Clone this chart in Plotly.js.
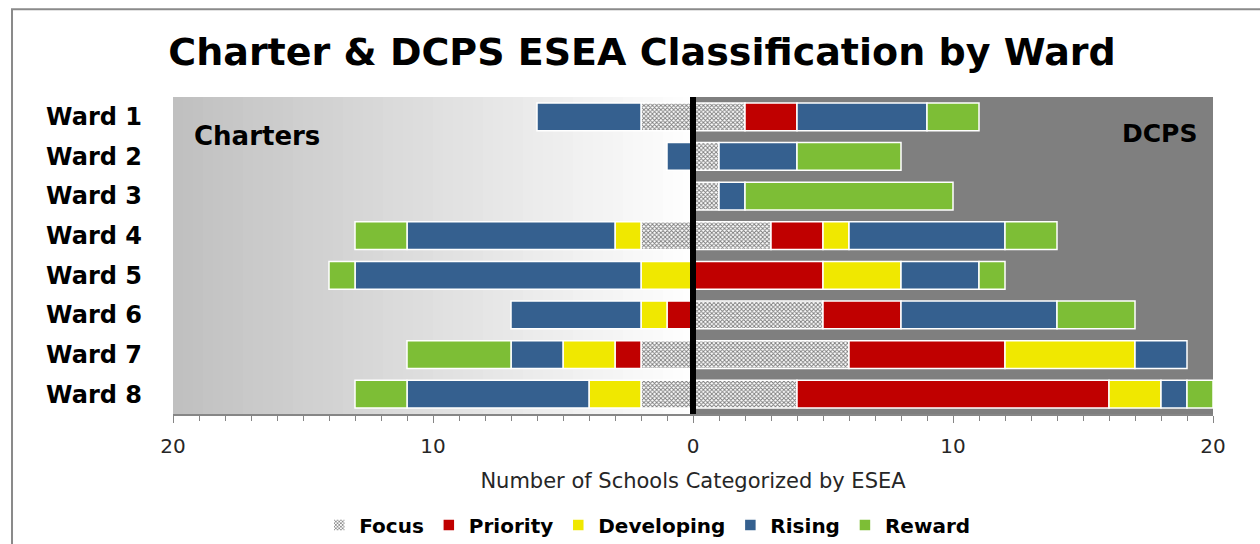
<!DOCTYPE html>
<html>
<head>
<meta charset="utf-8">
<script src="https://cdn.plot.ly/plotly-3.0.1.min.js"></script>
<style>
  html, body { margin: 0; padding: 0; background: #fff; }
  #graph { width: 1260px; height: 544px; }
</style>
</head>
<body>
<div id="graph"></div>
<script>
const wards = ["Ward 1", "Ward 2", "Ward 3", "Ward 4", "Ward 5", "Ward 6", "Ward 7", "Ward 8"];
const categories = ["Focus", "Priority", "Developing", "Rising", "Reward"];

// charter schools (drawn to the left)
const charterFocus = [2, 0, 0, 2, 0, 0, 2, 2];
const charterPriority = [0, 0, 0, 0, 0, 1, 1, 0];
const charterDeveloping = [0, 0, 0, 1, 2, 1, 2, 2];
const charterRising = [4, 1, 0, 8, 11, 5, 2, 7];
const charterReward = [0, 0, 0, 2, 1, 0, 4, 2];

// DCPS schools (drawn to the right)
const dcpsFocus = [2, 1, 1, 3, 0, 5, 6, 4];
const dcpsPriority = [2, 0, 0, 2, 5, 3, 6, 12];
const dcpsDeveloping = [0, 0, 0, 1, 3, 0, 5, 2];
const dcpsRising = [5, 3, 1, 6, 3, 6, 2, 1];
const dcpsReward = [2, 4, 8, 2, 1, 3, 0, 1];

const tickVals = [-20, -10, 0, 10, 20];
const tickText = ["20", "10", "0", "10", "20"];

const colors = {
  Focus: "#ffffff",
  Priority: "#c00000",
  Developing: "#f0e800",
  Rising: "#35608f",
  Reward: "#7dbe36",
};

const charterSets = [charterFocus, charterPriority, charterDeveloping, charterRising, charterReward];
const dcpsSets = [dcpsFocus, dcpsPriority, dcpsDeveloping, dcpsRising, dcpsReward];

const font = "DejaVu Sans, sans-serif";

function makeMarker(name) {
  let marker = {
    color: colors[name],
    line: { color: "#ffffff", width: 1.5 },
  };
  if (name === "Focus") {
    marker.pattern = { shape: "x", fgcolor: "#7a7a7a", bgcolor: "#ffffff", size: 3, solidity: 0.5 };
  }
  return marker;
}

let data = [];
categories.forEach((name, i) => {
  data.push({
    type: "bar",
    orientation: "h",
    name: name,
    legendgroup: name,
    showlegend: true,
    y: wards,
    x: dcpsSets[i].map((v) => (v === 0 ? null : v)),
    marker: makeMarker(name),
    hoverinfo: "skip",
  });
  data.push({
    type: "bar",
    orientation: "h",
    name: name,
    legendgroup: name,
    showlegend: false,
    y: wards,
    x: charterSets[i].map((v) => (v === 0 ? null : -v)),
    marker: makeMarker(name),
    hoverinfo: "skip",
  });
});

// plot background: gradient on the charter side, flat gray on the DCPS side
let shapes = [];
let steps = 52;
for (let s = 0; s < steps; s++) {
  let c = Math.round(192 + (62 * s) / (steps - 1));
  shapes.push({
    type: "rect",
    layer: "below",
    xref: "x",
    yref: "paper",
    x0: -20 + (20 * s) / steps,
    x1: -20 + (20 * (s + 1)) / steps,
    y0: 0,
    y1: 1,
    fillcolor: `rgb(${c},${c},${c})`,
    line: { width: 0 },
  });
}
shapes.push({
  type: "rect",
  layer: "below",
  xref: "x",
  yref: "paper",
  x0: 0,
  x1: 20,
  y0: 0,
  y1: 1,
  fillcolor: "#7f7f7f",
  line: { width: 0 },
});
shapes.push({
  type: "line",
  layer: "above",
  xref: "x",
  yref: "paper",
  x0: 0,
  x1: 0,
  y0: 0,
  y1: 1,
  line: { color: "#000000", width: 6 },
});
// outer chart frame
shapes.push({
  type: "rect",
  xref: "paper",
  yref: "paper",
  x0: -0.1548,
  x1: 1.2,
  y0: -0.6,
  y1: 1.277,
  line: { color: "#8a8a8a", width: 2 },
  fillcolor: "rgba(0,0,0,0)",
});

let layout = {
  width: 1260,
  height: 544,
  paper_bgcolor: "#ffffff",
  plot_bgcolor: "#ffffff",
  barmode: "relative",
  bargap: 0.3,
  margin: { l: 173, r: 47, t: 97, b: 130, autoexpand: false },
  title: {
    text: "<b>Charter & DCPS ESEA Classification by Ward</b>",
    font: { family: font, size: 38, color: "#000000" },
    x: 0.451,
    xref: "paper",
    xanchor: "center",
    y: 0.905,
    yanchor: "middle",
  },
  xaxis: {
    range: [-20, 20],
    tickvals: tickVals,
    ticktext: tickText,
    ticks: "outside",
    ticklen: 7,
    tickcolor: "#868686",
    tickwidth: 1,
    minor: { dtick: 1, ticks: "outside", ticklen: 5, tickcolor: "#868686", tickwidth: 1 },
    showline: true,
    linecolor: "#868686",
    linewidth: 2,
    showgrid: false,
    zeroline: false,
    automargin: false,
    tickfont: { family: font, size: 20, color: "#262626" },
    ticklabelstandoff: 6,
    title: {
      text: "Number of Schools Categorized by ESEA",
      font: { family: font, size: 21, color: "#262626" },
      standoff: 16,
    },
    fixedrange: true,
  },
  yaxis: {
    autorange: "reversed",
    showgrid: false,
    zeroline: false,
    automargin: false,
    ticks: "",
    tickfont: { family: font, size: 24, color: "#000000", weight: "bold" },
    ticklabelstandoff: 30,
    fixedrange: true,
  },
  legend: {
    orientation: "h",
    x: 0.456,
    xanchor: "center",
    y: -0.35,
    yanchor: "middle",
    font: { family: font, size: 20, color: "#000000", weight: "bold" },
    traceorder: "normal",
    itemwidth: 30,
  },
  annotations: [
    {
      xref: "paper",
      yref: "paper",
      x: 0.018,
      y: 0.878,
      xanchor: "left",
      yanchor: "middle",
      text: "<b>Charters</b>",
      showarrow: false,
      font: { family: font, size: 26, color: "#000000" },
    },
    {
      xref: "paper",
      yref: "paper",
      x: 0.987,
      y: 0.885,
      xanchor: "right",
      yanchor: "middle",
      text: "<b>DCPS</b>",
      showarrow: false,
      font: { family: font, size: 25, color: "#000000" },
    },
  ],
  shapes: shapes,
};

Plotly.newPlot("graph", data, layout, { displayModeBar: false, staticPlot: true });
</script>
</body>
</html>
